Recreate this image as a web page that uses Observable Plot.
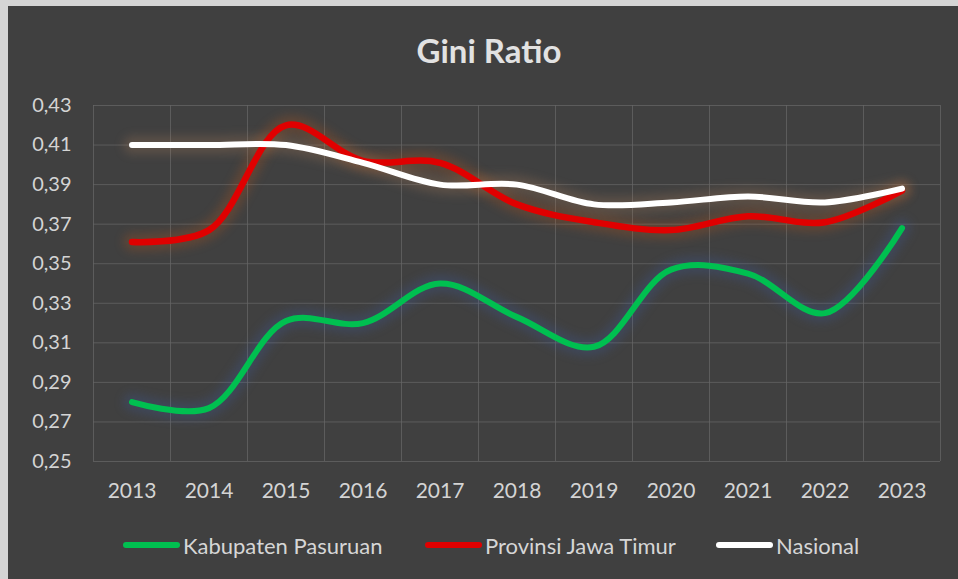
<!DOCTYPE html>
<html>
<head>
<meta charset="utf-8">
<script src="https://cdn.jsdelivr.net/npm/d3@7"></script>
<script src="https://cdn.jsdelivr.net/npm/@observablehq/plot@0.6"></script>
<style>
  html, body { margin: 0; padding: 0; width: 958px; height: 579px; overflow: hidden; background: #d4d4d4; }
  #card { position: absolute; left: 8px; top: 6px; width: 950px; height: 573px; background: #404040; font-family: Lato, "Open Sans", sans-serif; }
  #title { position: absolute; left: 481px; top: 28px; transform: translateX(-50%); font-size: 33px; font-weight: 700; color: #e2e2e2; line-height: 1; white-space: nowrap; }
  #chart { position: absolute; left: 0; top: 80px; }
  #legend { position: absolute; left: 0; top: 527px; width: 950px; height: 24px; }
  .item { position: absolute; top: 0; display: flex; align-items: center; height: 24px; color: #d6d6d6; font-size: 22px; }
  .sw { width: 57px; height: 6px; border-radius: 3px; margin-right: 3px; }
</style>
</head>
<body>
<div id="card">
  <div id="title">Gini Ratio</div>
  <div id="chart"></div>
  <div id="legend"></div>
</div>
<script>
const years = [2013, 2014, 2015, 2016, 2017, 2018, 2019, 2020, 2021, 2022, 2023];
const kabupaten = [0.280, 0.277, 0.321, 0.320, 0.340, 0.323, 0.308, 0.347, 0.345, 0.325, 0.368];
const provinsi  = [0.361, 0.367, 0.420, 0.402, 0.401, 0.380, 0.371, 0.367, 0.374, 0.371, 0.387];
const nasional  = [0.410, 0.410, 0.410, 0.401, 0.390, 0.390, 0.380, 0.381, 0.384, 0.381, 0.388];
const yTicks = [0.25, 0.27, 0.29, 0.31, 0.33, 0.35, 0.37, 0.39, 0.41, 0.43];
const seriesNames = ["Kabupaten Pasuruan", "Provinsi Jawa Timur", "Nasional"];
const seriesColors = ["#00c050", "#e00000", "#ffffff"];
const glowColors = ["#3a5fb0", "#d05a10", "#c08a60"];
const lineWidths = [6, 6.5, 6];

const seriesValues = [kabupaten, provinsi, nasional];
const data = seriesNames.flatMap((name, i) =>
  years.map((year, j) => ({series: name, year, value: seriesValues[i][j]}))
);
const bounds = years.map(y => y - 0.5).concat([years[years.length - 1] + 0.5]);
const fmt = d => d3.format(".2f")(d).replace(".", ",");

const plot = Plot.plot({
  width: 950,
  height: 434,
  marginTop: 19,
  marginBottom: 59,
  marginLeft: 85,
  marginRight: 18,
  style: {background: "transparent", color: "#d4d4d4", fontFamily: "Lato, 'Open Sans', sans-serif", fontSize: "21px"},
  x: {domain: [bounds[0], bounds[bounds.length - 1]], axis: null, label: null},
  y: {domain: [0.25, 0.43], axis: null, label: null},
  marks: [
    Plot.gridY(yTicks, {stroke: "#666666", strokeOpacity: 0.75}),
    Plot.ruleX(bounds, {stroke: "#666666", strokeOpacity: 0.75}),
    ...seriesNames.map((name, i) =>
      Plot.line(data.filter(d => d.series === name), {
        x: "year", y: "value", stroke: glowColors[i], strokeWidth: 18, strokeOpacity: 0.22,
        curve: "catmull-rom", imageFilter: "blur(5px)"
      })
    ),
    ...seriesNames.map((name, i) =>
      Plot.line(data.filter(d => d.series === name), {
        x: "year", y: "value", stroke: seriesColors[i], strokeWidth: lineWidths[i],
        curve: "catmull-rom", strokeLinecap: "round"
      })
    ),
    Plot.axisY(yTicks, {tickSize: 0, tickPadding: 22, tickFormat: fmt, fill: "#d4d4d4", fontSize: 20, label: null}),
    Plot.axisX(years, {tickSize: 0, tickPadding: 22, tickFormat: d => String(d), fill: "#d4d4d4", fontSize: 21, label: null})
  ]
});
document.getElementById("chart").appendChild(plot);

const legendX = [115, 417, 708];
const legend = document.getElementById("legend");
seriesNames.forEach((name, i) => {
  const it = document.createElement("div");
  it.className = "item";
  it.style.left = legendX[i] + "px";
  const sw = document.createElement("div");
  sw.className = "sw";
  sw.style.background = seriesColors[i];
  const tx = document.createElement("span");
  tx.textContent = name;
  it.appendChild(sw);
  it.appendChild(tx);
  legend.appendChild(it);
});
</script>
</body>
</html>
